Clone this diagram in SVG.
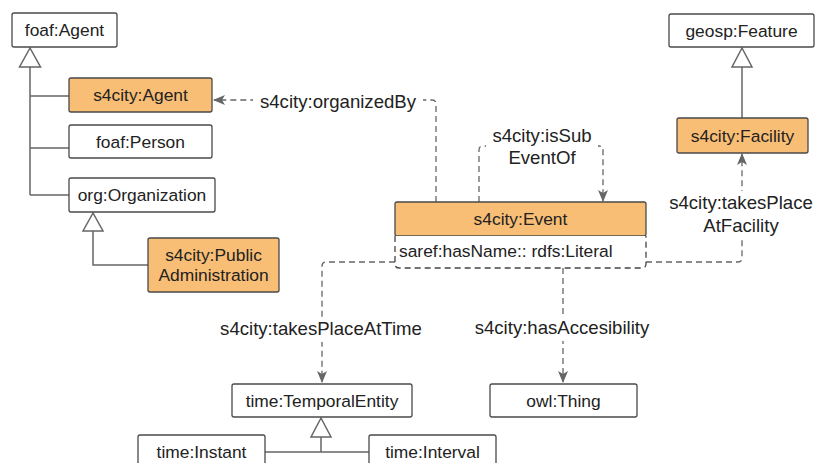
<svg xmlns="http://www.w3.org/2000/svg" width="815" height="463" viewBox="0 0 815 463">
<defs>
<style>
.box{fill:#fff;stroke:#4a4a4a;stroke-width:1.3}
.org{fill:#F9BE75;stroke:#4a4a4a;stroke-width:1.3}
.t{font-family:"Liberation Sans",Arial,sans-serif;font-size:17.4px;fill:#222;text-anchor:middle}
.lbl{font-family:"Liberation Sans",Arial,sans-serif;font-size:18.6px;fill:#222;text-anchor:middle}
.inh{fill:none;stroke:#666;stroke-width:1.5}
.tri{fill:#fff;stroke:#666;stroke-width:1.5}
.dash{fill:none;stroke:#666;stroke-width:1.3;stroke-dasharray:6 4}
.bg{fill:#fff}
</style>
<marker id="arr" viewBox="0 0 12 10" refX="11" refY="5" markerWidth="12" markerHeight="10" markerUnits="userSpaceOnUse" orient="auto">
<path d="M0,0 L12,5 L0,10 L3,5 Z" fill="#666"/>
</marker>
</defs>
<rect width="815" height="463" fill="#fff"/>

<g id="connectors">
<!-- inheritance -->
<path class="inh" d="M30,67 V195 M30,96 H69 M30,148 H69 M30,195 H69"/>
<path class="tri" d="M30,48 L19.5,67 L40.5,67 Z"/>
<path class="inh" d="M93,231 V265 H148"/>
<path class="tri" d="M93,213 L83,231 L103,231 Z"/>
<path class="inh" d="M742,67 V118"/>
<path class="tri" d="M742,48 L732,67 L752,67 Z"/>
<path class="inh" d="M321,437 V452 M265,452 H369"/>
<path class="tri" d="M321,418 L311,437 L331,437 Z"/>
<!-- object properties -->
<path class="dash" d="M436,202 V104 Q436,100 432,100 H214" marker-end="url(#arr)"/>
<rect class="bg" x="253" y="89" width="170" height="24"/>
<text class="lbl" x="338" y="108">s4city:organizedBy</text>

<path class="dash" d="M479,202 V150 Q479,146 483,146 H599 Q603,146 603,150 V201" marker-end="url(#arr)"/>
<rect class="bg" x="486" y="124" width="112" height="47"/>
<text class="lbl" x="542" y="142">s4city:isSub</text>
<text class="lbl" x="542" y="164">EventOf</text>

<path class="dash" d="M646,262 H738 Q742,262 742,258 V154" marker-end="url(#arr)"/>
<rect class="bg" x="667" y="191" width="148" height="47"/>
<text class="lbl" x="741" y="209">s4city:takesPlace</text>
<text class="lbl" x="741" y="232">AtFacility</text>

<path class="dash" d="M395,262 H326 Q322,262 322,266 V382" marker-end="url(#arr)"/>
<rect class="bg" x="214" y="318" width="214" height="24"/>
<text class="lbl" x="321" y="335">s4city:takesPlaceAtTime</text>

<path class="dash" d="M563,268 V382" marker-end="url(#arr)"/>
<rect class="bg" x="468" y="317" width="188" height="24"/>
<text class="lbl" x="562" y="334">s4city:hasAccesibility</text>
</g>

<g id="foafAgent"><rect class="box" x="12" y="13" width="105" height="34" rx="2"/><text class="t" x="64.5" y="36">foaf:Agent</text></g>
<g id="s4cityAgent"><rect class="org" x="69" y="78" width="143" height="34" rx="2"/><text class="t" x="140.5" y="101">s4city:Agent</text></g>
<g id="foafPerson"><rect class="box" x="69" y="125" width="143" height="33" rx="2"/><text class="t" x="140.5" y="148">foaf:Person</text></g>
<g id="orgOrganization"><rect class="box" x="69" y="178" width="146" height="34" rx="2"/><text class="t" x="142" y="201">org:Organization</text></g>
<g id="publicAdministration"><rect class="org" x="148" y="238" width="131" height="54" rx="2"/><text class="t" x="213.5" y="261">s4city:Public</text><text class="t" x="213.5" y="281">Administration</text></g>
<g id="event">
<rect class="org" x="395" y="202" width="251" height="34" rx="2"/>
<text class="t" x="520.5" y="225">s4city:Event</text>
<path d="M395,236 V264 Q395,268 399,268 H642 Q646,268 646,264 V236" fill="#fff" stroke="#444" stroke-width="1.3" stroke-dasharray="6 4"/>
<text class="t" x="399" y="257" style="text-anchor:start">saref:hasName:: rdfs:Literal</text>
</g>
<g id="geospFeature"><rect class="box" x="669" y="14" width="145" height="33" rx="2"/><text class="t" x="741.5" y="37">geosp:Feature</text></g>
<g id="s4cityFacility"><rect class="org" x="677" y="118" width="131" height="35" rx="2"/><text class="t" x="742.5" y="141.5">s4city:Facility</text></g>
<g id="temporalEntity"><rect class="box" x="232" y="384" width="180" height="33" rx="2"/><text class="t" x="322" y="407">time:TemporalEntity</text></g>
<g id="owlThing"><rect class="box" x="490" y="384" width="147" height="33" rx="2"/><text class="t" x="563.5" y="407">owl:Thing</text></g>
<g id="timeInstant"><rect class="box" x="138" y="435" width="127" height="36" rx="2"/><text class="t" x="201.5" y="458">time:Instant</text></g>
<g id="timeInterval"><rect class="box" x="369" y="435" width="127" height="36" rx="2"/><text class="t" x="432.5" y="458">time:Interval</text></g>
</svg>
